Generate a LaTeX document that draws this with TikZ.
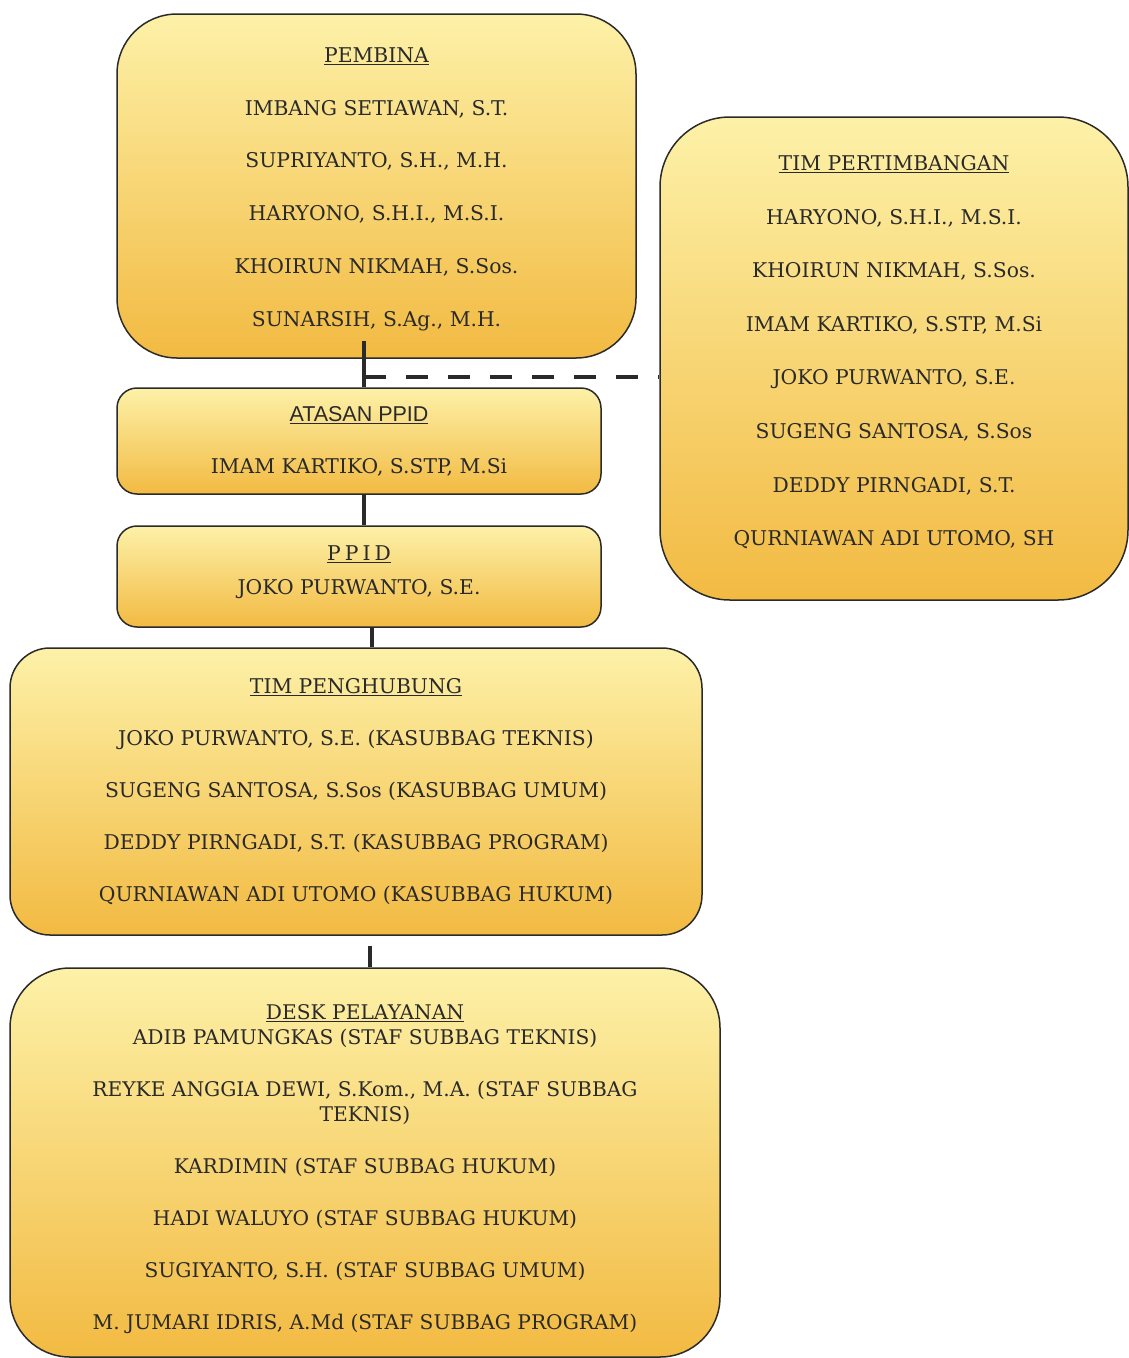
\documentclass[tikz,border=0pt]{standalone}
\usepackage{fontspec}
\setmainfont{DejaVu Serif}
\newfontfamily\headsans{Liberation Sans}
\usetikzlibrary{positioning}

\definecolor{boxtop}{HTML}{FDF1A8}
\definecolor{boxbot}{HTML}{F2BA42}
\definecolor{inkgray}{HTML}{2A2A2A}

% struts to nudge a text block down (taller first line) or up (deeper last line)
\newcommand{\toppad}[1]{\rule{0pt}{#1}}
\newcommand{\botpad}[1]{\rule[-#1]{0pt}{0pt}}

\tikzset{
  orgbox/.style={draw=inkgray, line width=1.5pt, top color=boxtop, bottom color=boxbot,
    align=center, text=inkgray, inner sep=0pt},
  conn/.style={line width=4pt, color=inkgray},
  dashconn/.style={line width=4pt, color=inkgray, dash pattern=on 22pt off 20pt}
}

\begin{document}
\begin{tikzpicture}[x=1pt, y=-1pt]
        \useasboundingbox (0,0) rectangle (1129,1358);

        \node[orgbox, rounded corners=60pt, minimum width=519pt, minimum height=344pt,
              font=\fontsize{20.3}{52.8}\selectfont] (pembina) at (376.5,186)
              {\toppad{21pt}\underline{PEMBINA}\\ IMBANG SETIAWAN, S.T.\\ SUPRIYANTO, S.H., M.H.\\
               HARYONO, S.H.I., M.S.I.\\ KHOIRUN NIKMAH, S.Sos.\\ SUNARSIH, S.Ag., M.H.};
        \node[orgbox, rounded corners=70pt, minimum width=468pt, minimum height=483pt,
              font=\fontsize{20.3}{53.6}\selectfont] (pertimbangan) at (894,358.5)
              {\underline{TIM PERTIMBANGAN}\\ HARYONO, S.H.I., M.S.I.\\ KHOIRUN NIKMAH, S.Sos.\\
               IMAM KARTIKO, S.STP, M.Si\\ JOKO PURWANTO, S.E.\\ SUGENG SANTOSA, S.Sos\\
               DEDDY PIRNGADI, S.T.\\ QURNIAWAN ADI UTOMO, SH\botpad{16pt}};
        \node[orgbox, rounded corners=20pt, minimum width=484pt, minimum height=106pt,
              font=\fontsize{20.3}{52}\selectfont] (atasan) at (359,441)
              {{\headsans\fontsize{21.5}{52}\selectfont\underline{ATASAN PPID}}\\ IMAM KARTIKO, S.STP, M.Si};
        \node[orgbox, rounded corners=20pt, minimum width=484pt, minimum height=101pt,
              font=\fontsize{20.3}{34}\selectfont] (ppid) at (359,576.5)
              {\underline{P\hspace{4pt}P\hspace{4pt}I\hspace{4pt}D}\\ JOKO PURWANTO, S.E.\botpad{12pt}};
        \node[orgbox, rounded corners=40pt, minimum width=692pt, minimum height=287pt,
              font=\fontsize{20.3}{52}\selectfont] (penghubung) at (356,791.5)
              {\underline{TIM PENGHUBUNG}\\ JOKO PURWANTO, S.E. (KASUBBAG TEKNIS)\\
               SUGENG SANTOSA, S.Sos (KASUBBAG UMUM)\\ DEDDY PIRNGADI, S.T. (KASUBBAG PROGRAM)\\
               QURNIAWAN ADI UTOMO (KASUBBAG HUKUM)};
        \node[orgbox, rounded corners=60pt, minimum width=710pt, minimum height=389pt,
              font=\fontsize{20.2}{25}\selectfont] (desk) at (365,1162.5)
              {\toppad{28pt}\underline{DESK PELAYANAN}\\ ADIB PAMUNGKAS (STAF SUBBAG TEKNIS)\\[27pt]
               REYKE ANGGIA DEWI, S.Kom., M.A. (STAF SUBBAG\\ TEKNIS)\\[27pt]
               KARDIMIN (STAF SUBBAG HUKUM)\\[27pt] HADI WALUYO (STAF SUBBAG HUKUM)\\[27pt]
               SUGIYANTO, S.H. (STAF SUBBAG UMUM)\\[27pt] M. JUMARI IDRIS, A.Md (STAF SUBBAG PROGRAM)};

        \coordinate (split) at (364,377);

        \draw[conn] ([xshift=5pt,yshift=18pt]atasan.north |- pembina.south) -- ([xshift=5pt]atasan.north);
        \draw[dashconn] (split) -- (split -| pertimbangan.west);
        \draw[conn] ([xshift=5pt]atasan.south) -- ([xshift=5pt]ppid.north);
        \draw[conn] ([xshift=13pt]ppid.south) -- ([xshift=13pt]ppid.south |- penghubung.north);
        \draw[conn] ([xshift=5pt,yshift=-10pt]desk.north |- penghubung.south) -- ([xshift=5pt]desk.north);
      \end{tikzpicture}
\end{document}
